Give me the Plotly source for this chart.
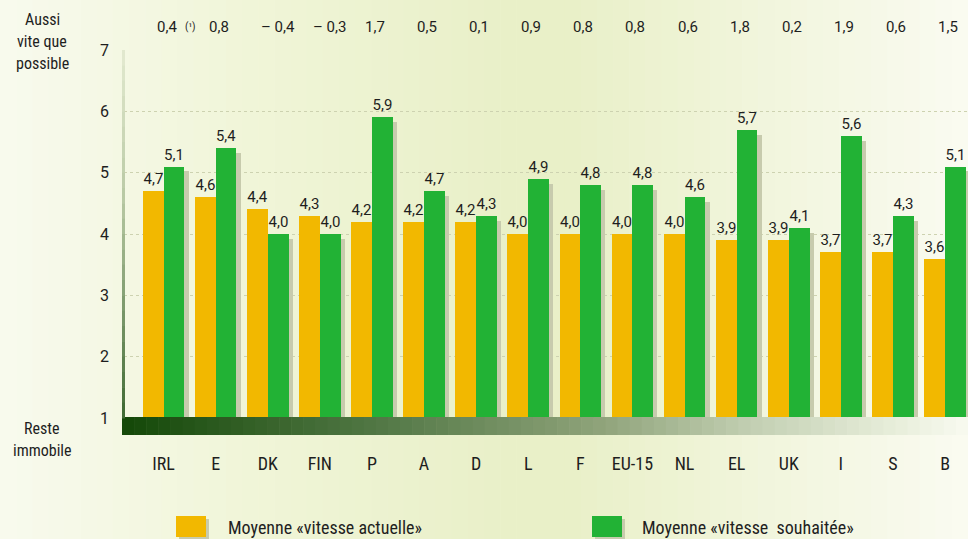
import plotly.graph_objects as go

# ---------------- data ----------------
categories = ["IRL", "E", "DK", "FIN", "P", "A", "D", "L", "F", "EU-15", "NL", "EL", "UK", "I", "S", "B"]
vitesse_actuelle = [4.7, 4.6, 4.4, 4.3, 4.2, 4.2, 4.2, 4.0, 4.0, 4.0, 4.0, 3.9, 3.9, 3.7, 3.7, 3.6]
vitesse_souhaitee = [5.1, 5.4, 4.0, 4.0, 5.9, 4.7, 4.3, 4.9, 4.8, 4.8, 4.6, 5.7, 4.1, 5.6, 4.3, 5.1]
differences = ["0,4", "0,8", "– 0,4", "– 0,3", "1,7", "0,5", "0,1", "0,9", "0,8", "0,8", "0,6", "1,8", "0,2", "1,9", "0,6", "1,5"]
footnote_mark = "(¹)"
y_ticks = [1, 2, 3, 4, 5, 6, 7]
label_top = ["Aussi", "vite que", "possible"]
label_bottom = ["Reste", "immobile"]
legend_names = ["Moyenne «vitesse actuelle»", "Moyenne «vitesse  souhaitée»"]

# ---------------- geometry ----------------
W, H = 968, 539
ML, MR, MT, MB = 124, 0, 50, 121
PW, PH = W - ML - MR, H - MT - MB

def px2x(px):
    return (px - ML) / PW

def py2y(py):
    return (H - MB - py) / PH

YELLOW = "#f2b800"
GREEN = "#22b235"
SHADOW = "#c7cbad"
TXT = "#1e1e1e"
NUMFONT = "Roboto, Liberation Sans, sans-serif"
LBLFONT = "Liberation Sans Narrow, Roboto Condensed, Roboto, sans-serif"

x = list(range(len(categories)))
fmt = lambda v: f"{v:.1f}".replace(".", ",")

fig = go.Figure()
fig.add_trace(go.Bar(
    x=x, y=[v - 0.08 for v in vitesse_souhaitee], width=0.40, offset=0.08,
    marker=dict(color=SHADOW, line=dict(width=0)), hoverinfo="skip", showlegend=False))
fig.add_trace(go.Bar(
    x=x, y=vitesse_actuelle, width=0.40, offset=-0.40, name=legend_names[0],
    marker=dict(color=YELLOW, line=dict(width=0)),
    text=[fmt(v) for v in vitesse_actuelle], textposition="outside",
    textfont=dict(size=15, color=TXT, family=NUMFONT), cliponaxis=False, showlegend=False))
fig.add_trace(go.Bar(
    x=x, y=vitesse_souhaitee, width=0.40, offset=0.0, name=legend_names[1],
    marker=dict(color=GREEN, line=dict(width=0)),
    text=[fmt(v) for v in vitesse_souhaitee], textposition="outside",
    textfont=dict(size=15, color=TXT, family=NUMFONT), cliponaxis=False, showlegend=False))

shapes = []

def lerp_color(stops, t):
    for (t0, c0), (t1, c1) in zip(stops[:-1], stops[1:]):
        if t0 <= t <= t1:
            f = 0 if t1 == t0 else (t - t0) / (t1 - t0)
            a = [int(c0[i:i + 2], 16) for i in (1, 3, 5)]
            b = [int(c1[i:i + 2], 16) for i in (1, 3, 5)]
            return "#" + "".join(f"{round(a[k] + (b[k] - a[k]) * f):02x}" for k in range(3))
    return stops[-1][1]

# background gradient
bg_stops = [(0, "#f8faee"), (250, "#f0f5d8"), (500, "#e9f0c8"), (570, "#e9f0c8"), (760, "#f1f5dc"), (968, "#fafbf1")]
N = 60
for i in range(N):
    a, b = W * i / N, W * (i + 1) / N
    shapes.append(dict(type="rect", xref="paper", yref="paper", layer="below",
                       x0=px2x(a), x1=px2x(b + 0.6), y0=py2y(H), y1=py2y(0),
                       fillcolor=lerp_color(bg_stops, (a + b) / 2), line=dict(width=0)))

# bottom gradient bar
bar_stops = [(122, "#144808"), (390, "#557a48"), (600, "#8fa37a"), (750, "#c2cfb2"), (900, "#e9efdc"), (968, "#f8faf0")]
N2 = 70
for i in range(N2):
    a = 122 + (W - 122) * i / N2
    b = 122 + (W - 122) * (i + 1) / N2
    shapes.append(dict(type="rect", xref="paper", yref="paper", layer="above",
                       x0=px2x(a), x1=px2x(b + 0.6), y0=py2y(435), y1=py2y(417),
                       fillcolor=lerp_color(bar_stops, (a + b) / 2), line=dict(width=0)))

# left axis line gradient
ax_stops = [(50, "#e3ead0"), (200, "#b8c9a4"), (418, "#3f6a33")]
N3 = 24
for i in range(N3):
    a = 50 + (418 - 50) * i / N3
    b = 50 + (418 - 50) * (i + 1) / N3
    shapes.append(dict(type="rect", xref="paper", yref="paper", layer="above",
                       x0=px2x(122), x1=px2x(125), y0=py2y(b + 0.5), y1=py2y(a),
                       fillcolor=lerp_color(ax_stops, (a + b) / 2), line=dict(width=0)))

# legend squares
for (lx, col) in [(176, YELLOW), (592, GREEN)]:
    shapes.append(dict(type="rect", xref="paper", yref="paper", layer="above",
                       x0=px2x(lx + 3), x1=px2x(lx + 33), y0=py2y(539), y1=py2y(519),
                       fillcolor=SHADOW, line=dict(width=0)))
    shapes.append(dict(type="rect", xref="paper", yref="paper", layer="above",
                       x0=px2x(lx), x1=px2x(lx + 30), y0=py2y(537), y1=py2y(516),
                       fillcolor=col, line=dict(width=0)))

annotations = []
for i, d in enumerate(differences):
    shift = 10 if d.startswith("–") else 3
    annotations.append(dict(x=i, xref="x", y=py2y(27), yref="paper", text=d, showarrow=False,
                            xanchor="center", yanchor="middle",
                            xshift=shift, font=dict(size=15, color=TXT, family=NUMFONT)))
annotations.append(dict(x=0, xref="x", y=py2y(27), yref="paper", text=footnote_mark, showarrow=False,
                        xanchor="center", yanchor="middle",
                        xshift=27, font=dict(size=10, color=TXT, family=NUMFONT)))
for k, t in enumerate(label_top):
    annotations.append(dict(x=px2x(42), xref="paper", y=py2y(20 + 22 * k), yref="paper", text=t,
                            xanchor="center", yanchor="middle",
                            showarrow=False, font=dict(size=16, color=TXT, family=LBLFONT)))
for k, t in enumerate(label_bottom):
    annotations.append(dict(x=px2x(42), xref="paper", y=py2y(428 + 22 * k), yref="paper", text=t,
                            xanchor="center", yanchor="middle",
                            showarrow=False, font=dict(size=16, color=TXT, family=LBLFONT)))
for (tx, t) in [(226, legend_names[0]), (640, legend_names[1])]:
    annotations.append(dict(x=px2x(tx), xref="paper", y=py2y(527), yref="paper", text=t,
                            xanchor="left", yanchor="middle",
                            showarrow=False, font=dict(size=18, color=TXT, family=LBLFONT)))

fig.update_layout(
    width=W, height=H, margin=dict(l=ML, r=MR, t=MT, b=MB),
    paper_bgcolor="rgba(0,0,0,0)", plot_bgcolor="rgba(0,0,0,0)",
    barmode="overlay", bargap=0, separators=", ",
    shapes=shapes, annotations=annotations, showlegend=False,
    xaxis=dict(range=[-0.758, 15.44], tickvals=x, ticktext=categories, showgrid=False,
               zeroline=False, showline=False, ticks="", ticklabelstandoff=33,
               tickfont=dict(size=18, color=TXT, family=LBLFONT)),
    yaxis=dict(range=[1, 7], tickvals=y_ticks, showgrid=True, gridcolor="#cdd2b0",
               griddash="dot", gridwidth=1, zeroline=False, showline=False, ticks="",
               ticklabelstandoff=14, tickfont=dict(size=16, color=TXT, family=NUMFONT)),
)

fig.write_html("out.html", config={"displayModeBar": False})

# remove default page margin so the figure sits at the window's top-left corner
with open("out.html", "r", encoding="utf-8") as fh:
    html = fh.read()
html = html.replace("<head>", "<head><style>html,body{margin:0;padding:0;overflow:hidden;}</style>", 1)
with open("out.html", "w", encoding="utf-8") as fh:
    fh.write(html)
